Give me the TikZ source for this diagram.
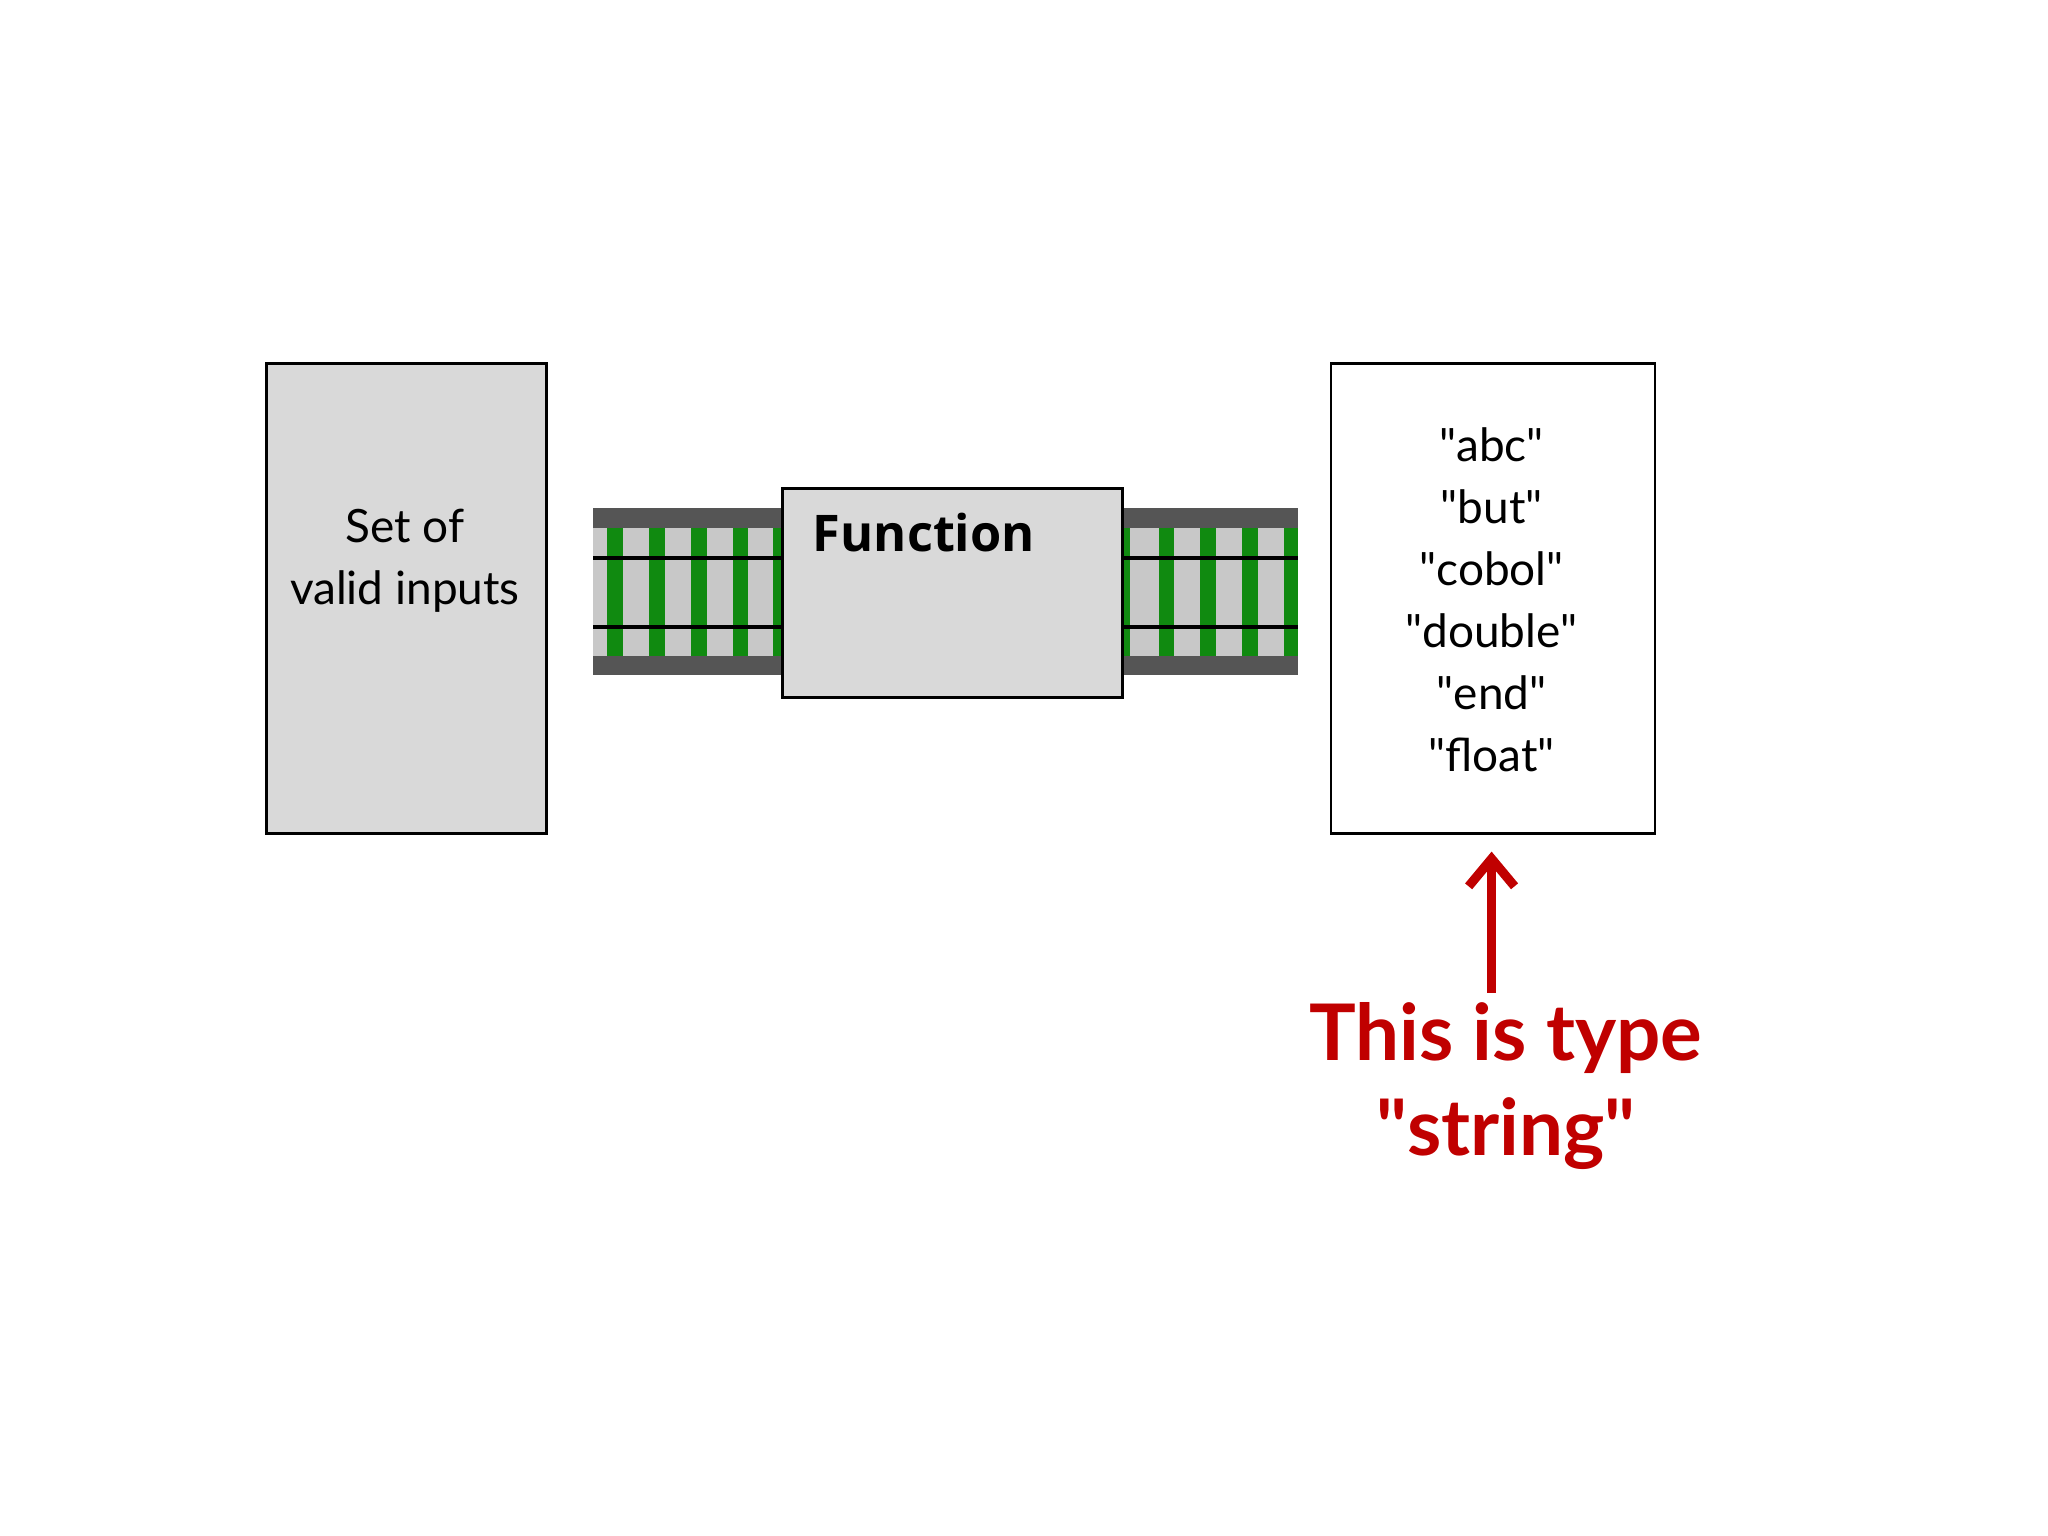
\documentclass[tikz,border=0pt]{standalone}
\usetikzlibrary{arrows.meta}
\usepackage{fontspec}
\setmainfont{Lato}
\newfontfamily\fbold{Open Sans}
\begin{document}
\begin{tikzpicture}[x=0.01cm,y=-0.01cm,
  box/.style={draw=black,line width=0.6pt,fill=boxg},
  lbl/.style={font=\fontsize{10}{13.5}\selectfont,align=center},
  hand/.style={text=hred,font=\fontsize{17}{20}\selectfont\bfseries}]
\definecolor{boxg}{HTML}{D9D9D9}
\definecolor{rail}{HTML}{555555}
\definecolor{bed}{HTML}{C8C8C8}
\definecolor{tie}{HTML}{108A10}
\definecolor{hred}{HTML}{C00000}
\useasboundingbox (0,0) rectangle (1568,1176);
% tracks
\foreach \a/\b in {454/598,858/994}{
  \fill[bed] (\a,404) rectangle (\b,502);
  \fill[rail] (\a,389) rectangle (\b,404);
  \fill[rail] (\a,502) rectangle (\b,517);
}
\foreach \t in {465,497,529,561,887,919,951}{\fill[tie] (\t,404) rectangle ++(12,98);}
\fill[tie] (592,404) rectangle (598,502);
\fill[tie] (858,404) rectangle (865,502);
\fill[tie] (983,404) rectangle (994,502);
\foreach \a/\b in {454/598,858/994}{
  \fill[black] (\a,425.5) rectangle (\b,428.5);
  \fill[black] (\a,478.5) rectangle (\b,481.5);
}
\node[box,minimum width=2.14cm,minimum height=3.6cm,anchor=north west] (in) at (203,277) {};
\node[lbl] (intxt) at (310,429) {Set of\\valid inputs};
\node[box,minimum width=2.6cm,minimum height=1.6cm,anchor=north west] (fn) at (598,373) {};
\node[anchor=west,font=\fbold\fontsize{11}{13}\selectfont\bfseries] (fntxt) at (610,408) {Function};
\node[box,fill=white,minimum width=2.48cm,minimum height=3.6cm,anchor=north west] (out) at (1018,277) {};
\node[lbl] (outtxt) at (1142,459) {\textquotedbl abc\textquotedbl\\\textquotedbl but\textquotedbl\\\textquotedbl cobol\textquotedbl\\\textquotedbl double\textquotedbl\\\textquotedbl end\textquotedbl\\\textquotedbl float\textquotedbl};
\coordinate (as) at (1142,760);
\coordinate (ae) at (1142,652);
\draw[hred,line width=2pt,-{Straight Barb[length=6pt,width=10pt]}] (as) -- (ae);
\node[hand] (h1) at (1153,795) {This is type};
\node[hand] (h2) at (1153,868) {\textquotedbl string\textquotedbl};
\end{tikzpicture}
\end{document}
